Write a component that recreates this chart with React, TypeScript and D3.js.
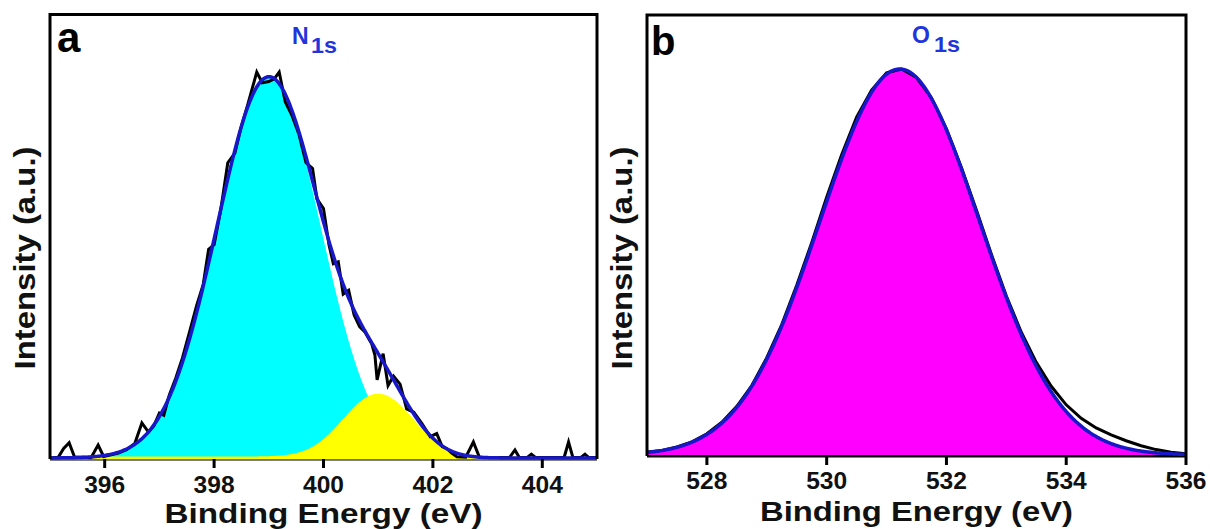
import React from 'react';
import * as d3 from 'd3';

const W = 1210;
const H = 529;

// ---------- Panel a : N 1s ----------
const nTicks = [396, 398, 400, 402, 404];
const nRawEnergy = [
  395.0, 395.15, 395.25, 395.35, 395.45, 395.6, 395.75, 395.88, 395.98, 396.1,
  396.25, 396.4, 396.55, 396.68, 396.8, 396.9, 397.0, 397.08, 397.18, 397.3,
  397.42, 397.55, 397.68, 397.8, 397.9, 398.0, 398.12, 398.25, 398.38, 398.5,
  398.62, 398.78, 398.88, 399.0, 399.1, 399.19, 399.3, 399.42, 399.55, 399.68,
  399.8, 399.88, 400.0, 400.1, 400.18, 400.27, 400.36, 400.46, 400.56, 400.66,
  400.76, 400.88, 400.94, 400.98, 401.09, 401.18, 401.28, 401.4, 401.52, 401.65,
  401.8, 401.95, 402.07, 402.17, 402.25, 402.35, 402.44, 402.6, 402.74, 402.85,
  403.0, 403.2, 403.4, 403.5, 403.58, 403.72, 403.8, 403.88, 404.1, 404.3,
  404.4, 404.48, 404.56, 404.7, 404.78, 404.85, 405.0,
];
const nRawIntensity = [
  0.0, 0.002, 0.025, 0.04, 0.002, 0.002, 0.001, 0.034, 0.004, 0.008,
  0.013, 0.022, 0.038, 0.092, 0.068, 0.085, 0.118, 0.112, 0.165, 0.21,
  0.262, 0.33, 0.4, 0.455, 0.548, 0.56, 0.65, 0.775, 0.8, 0.872,
  0.93, 1.013, 0.985, 0.988, 0.995, 1.013, 0.935, 0.9, 0.85, 0.775,
  0.76, 0.68, 0.655, 0.56, 0.51, 0.515, 0.43, 0.44, 0.375, 0.345,
  0.33, 0.3, 0.27, 0.205, 0.274, 0.19, 0.215, 0.194, 0.129, 0.12,
  0.09, 0.056, 0.064, 0.03, 0.025, 0.012, 0.003, 0.002, 0.042, 0.002,
  0.001, 0.001, 0.001, 0.021, 0.001, 0.001, 0.01, 0.001, 0.001, 0.001,
  0.002, 0.042, 0.001, 0.001, 0.01, 0.001, 0.001,
];
// fitted components (centre eV, height, sigma eV)
const nPeakCenters = [399.0, 401.0];
const nPeakHeights = [1.0, 0.165];
const nPeakSigmas = [0.95, 0.62];
const nPeakColors = ['#00ffff', '#ffff00'];

// ---------- Panel b : O 1s ----------
const oTicks = [528, 530, 532, 534, 536];
const oRawEnergy = [
  527.0, 527.25, 527.5, 527.75, 528.0, 528.25, 528.5, 528.75, 529.0, 529.25,
  529.5, 529.75, 530.0, 530.25, 530.5, 530.75, 531.0, 531.25, 531.5, 531.75,
  532.0, 532.25, 532.5, 532.75, 533.0, 533.25, 533.5, 533.75, 534.0, 534.25,
  534.5, 534.75, 535.0, 535.25, 535.5, 535.75, 536.0,
];
const oRawIntensity = [
  0.008, 0.012, 0.021, 0.034, 0.055, 0.085, 0.126, 0.18, 0.252, 0.338,
  0.44, 0.55, 0.668, 0.778, 0.875, 0.945, 0.99, 1.0, 0.978, 0.925,
  0.845, 0.745, 0.635, 0.52, 0.412, 0.318, 0.24, 0.178, 0.13, 0.095,
  0.07, 0.052, 0.037, 0.024, 0.014, 0.007, 0.003,
];
const oPeakCenters = [531.22];
const oPeakHeights = [1.0];
const oPeakSigmas = [1.33];
const oPeakColors = ['#ff00ff'];

const FONT = '"Liberation Sans", Arial, Helvetica, sans-serif';
const FIT_BLUE = '#1818c8';
const LABEL_BLUE = '#2234dc';

type PanelProps = {
  id: string;
  left: number;
  right: number;
  top: number;
  axisY: number;
  base: number;
  peakY: number;
  domain: [number, number];
  ticks: number[];
  energy: number[];
  intensity: number[];
  centers: number[];
  heights: number[];
  sigmas: number[];
  colors: string[];
  letter: string;
  letterX: number;
  letterY: number;
  letterSize: number;
  core: string;
  coreX: number;
  coreY: number;
  subX: number;
  subY: number;
  tickLabelY: number;
  titleY: number;
  titleLen: number;
  yTitleX: number;
};

function Panel(p: PanelProps) {
  const x = d3.scaleLinear().domain(p.domain).range([p.left, p.right]);
  const y = d3.scaleLinear().domain([0, 1]).range([p.base, p.peakY]);
  const grid = d3.range(p.domain[0], p.domain[1] + 1e-9, 0.02);
  const comp = (i: number, e: number) =>
    p.heights[i] * Math.exp(-((e - p.centers[i]) ** 2) / (2 * p.sigmas[i] ** 2));
  const env = (e: number) => p.centers.reduce((s, _c, i) => s + comp(i, e), 0);

  const areas = p.centers.map((_c, i) =>
    d3
      .area<number>()
      .x((e) => x(e))
      .y0(p.base)
      .y1((e) => y(comp(i, e)))(grid) as string
  );
  const envLine = d3
    .line<number>()
    .x((e) => x(e))
    .y((e) => y(env(e)))(grid) as string;
  const rawLine = d3
    .line<number>()
    .x((_e, i) => x(p.energy[i]))
    .y((_e, i) => y(p.intensity[i]))(p.energy) as string;

  const clipId = `clip-${p.id}`;
  return (
    <g>
      <defs>
        <clipPath id={clipId}>
          <rect x={p.left} y={p.top} width={p.right - p.left} height={p.axisY + 3 - p.top} />
        </clipPath>
      </defs>
      <line x1={p.left} x2={p.right} y1={p.axisY} y2={p.axisY} stroke="#000" strokeWidth={3} />
      <g clipPath={`url(#${clipId})`}>
        {areas.map((d, i) => (
          <path
            key={i}
            d={d}
            fill={p.colors[i]}
            stroke={i > 0 ? p.colors[i] : 'none'}
            strokeWidth={i > 0 ? 3 : 0}
          />
        ))}
        <path d={rawLine} fill="none" stroke="#000" strokeWidth={3} strokeLinejoin="miter" />
        <path d={envLine} fill="none" stroke={FIT_BLUE} strokeWidth={3.5} />
      </g>
      <path
        d={`M${p.left},${p.axisY}V${p.top}H${p.right}V${p.axisY}`}
        fill="none"
        stroke="#000"
        strokeWidth={3}
      />
      {p.ticks.map((t) => (
        <g key={t}>
          <line x1={x(t)} x2={x(t)} y1={p.axisY} y2={p.axisY + 9} stroke="#000" strokeWidth={3} />
          <text
            x={x(t)}
            y={p.tickLabelY}
            textAnchor="middle"
            fontSize={23}
            fontWeight="bold"
            fontFamily={FONT}
            textLength={41}
            lengthAdjust="spacingAndGlyphs"
            fill="#111"
          >
            {t}
          </text>
        </g>
      ))}
      <text
        x={(p.left + p.right) / 2}
        y={p.titleY}
        textAnchor="middle"
        fontSize={28}
        fontWeight="bold"
        fontFamily={FONT}
        textLength={p.titleLen}
        lengthAdjust="spacingAndGlyphs"
        fill="#111"
      >
        Binding Energy (eV)
      </text>
      <text
        transform={`translate(${p.yTitleX},258) rotate(-90)`}
        textAnchor="middle"
        fontSize={30}
        fontWeight="bold"
        fontFamily={FONT}
        textLength={223}
        lengthAdjust="spacingAndGlyphs"
        fill="#111"
      >
        Intensity (a.u.)
      </text>
      <text
        x={p.letterX}
        y={p.letterY}
        fontSize={p.letterSize}
        fontWeight="bold"
        fontFamily={FONT}
        fill="#000"
      >
        {p.letter}
      </text>
      <text
        x={p.coreX}
        y={p.coreY}
        fontSize={23}
        fontWeight="bold"
        fontFamily={FONT}
        fill={LABEL_BLUE}
      >
        {p.core}
      </text>
      <text
        x={p.subX}
        y={p.subY}
        fontSize={22}
        fontWeight="bold"
        fontFamily={FONT}
        fill={LABEL_BLUE}
        textLength={26}
        lengthAdjust="spacingAndGlyphs"
      >
        1s
      </text>
    </g>
  );
}

export default function App() {
  return (
    <svg
      width={W}
      height={H}
      viewBox={`0 0 ${W} ${H}`}
      style={{ position: 'absolute', left: 0, top: 0, background: '#fff' }}
    >
      <rect x={0} y={0} width={W} height={H} fill="#fff" />
      <Panel
        id="a"
        left={50}
        right={597}
        top={14.5}
        axisY={459}
        base={458}
        peakY={77}
        domain={[395, 405]}
        ticks={nTicks}
        energy={nRawEnergy}
        intensity={nRawIntensity}
        centers={nPeakCenters}
        heights={nPeakHeights}
        sigmas={nPeakSigmas}
        colors={nPeakColors}
        letter="a"
        letterX={57}
        letterY={52}
        letterSize={42}
        core="N"
        coreX={292}
        coreY={44}
        subX={311}
        subY={53}
        tickLabelY={493}
        titleY={523}
        titleLen={318}
        yTitleX={35}
      />
      <Panel
        id="b"
        left={647}
        right={1186}
        top={15}
        axisY={456}
        base={455}
        peakY={69}
        domain={[527, 536]}
        ticks={oTicks}
        energy={oRawEnergy}
        intensity={oRawIntensity}
        centers={oPeakCenters}
        heights={oPeakHeights}
        sigmas={oPeakSigmas}
        colors={oPeakColors}
        letter="b"
        letterX={651}
        letterY={55}
        letterSize={40}
        core="O"
        coreX={912}
        coreY={43}
        subX={934}
        subY={52}
        tickLabelY={489}
        titleY={521}
        titleLen={313}
        yTitleX={632}
      />
    </svg>
  );
}
